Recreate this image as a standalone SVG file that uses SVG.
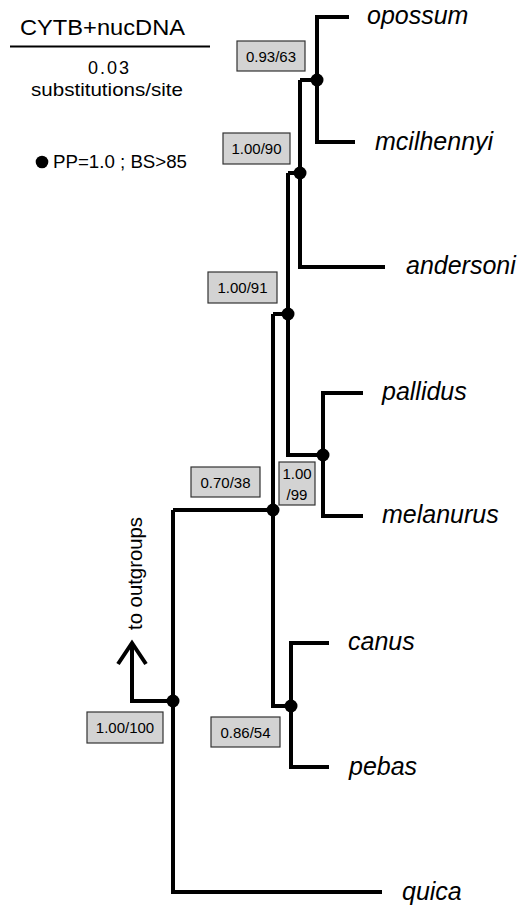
<svg xmlns="http://www.w3.org/2000/svg" width="517" height="906" viewBox="0 0 517 906">
<style>
  .br { fill: none; stroke: #000; stroke-width: 4; stroke-linejoin: miter; stroke-linecap: butt; }
  .dot { fill: #000; }
  .box { fill: #d3d3d3; stroke: #333; stroke-width: 1.2; }
  .sup { font-family: "Liberation Sans", Arial, sans-serif; font-size: 15px; fill: #000; text-anchor: middle; }
  .tax { font-family: "Liberation Sans", Arial, sans-serif; font-size: 25px; font-style: italic; fill: #000; }
  .hdr { font-family: "Liberation Sans", Arial, sans-serif; fill: #000; }
</style>
<rect width="517" height="906" fill="#fff"/>

<g id="legend">
  <text class="hdr" x="20" y="35" font-size="22" textLength="165" lengthAdjust="spacingAndGlyphs">CYTB+nucDNA</text>
  <line x1="10" y1="46.5" x2="210" y2="46.5" stroke="#000" stroke-width="2"/>
  <text class="hdr" x="109.5" y="74" font-size="18" text-anchor="middle" letter-spacing="2">0.03</text>
  <text class="hdr" x="107" y="96" font-size="19" text-anchor="middle" textLength="152" lengthAdjust="spacingAndGlyphs">substitutions/site</text>
  <circle cx="42" cy="162" r="6.3" fill="#000"/>
  <text class="hdr" x="53" y="168" font-size="18" textLength="134" lengthAdjust="spacingAndGlyphs">PP=1.0 ; BS&gt;85</text>
</g>

<g id="connectors">
  <path class="br" d="M349 17 H317 V142 H355"/>
  <path class="br" d="M300 80 H317"/>
  <path class="br" d="M300 80 V267 H385"/>
  <path class="br" d="M288 173 H300"/>
  <path class="br" d="M363 393 H323 V516 H363"/>
  <path class="br" d="M288 173 V455 H323"/>
  <path class="br" d="M273 314 H288"/>
  <path class="br" d="M329 643 H291 V767 H329"/>
  <path class="br" d="M273 314 V706 H291"/>
  <path class="br" d="M173 510 H273"/>
  <path class="br" d="M173 510 V892 H382"/>
  <path class="br" d="M173 701 H132 V643"/>
  <path class="br" d="M118 664 L132 643 L146 664"/>
</g>

<g id="node-opossum-mcilhennyi">
  <circle class="dot" cx="317" cy="80" r="6.5"/>
  <rect class="box" x="237" y="41" width="68" height="30"/>
  <text class="sup" x="271" y="61.5">0.93/63</text>
</g>
<g id="node-andersoni-clade">
  <circle class="dot" cx="300" cy="173" r="6.5"/>
  <rect class="box" x="223" y="133" width="67" height="31"/>
  <text class="sup" x="256.5" y="154">1.00/90</text>
</g>
<g id="node-ingroup-upper">
  <circle class="dot" cx="288" cy="314" r="6.5"/>
  <rect class="box" x="208" y="272" width="69" height="31"/>
  <text class="sup" x="242.5" y="293">1.00/91</text>
</g>
<g id="node-pallidus-melanurus">
  <circle class="dot" cx="323" cy="455" r="6.5"/>
  <rect class="box" x="279" y="462" width="36" height="43"/>
  <text class="sup" x="297" y="479">1.00</text>
  <text class="sup" x="297" y="500">/99</text>
</g>
<g id="node-ingroup">
  <circle class="dot" cx="273" cy="510" r="6.5"/>
  <rect class="box" x="191" y="467" width="69" height="30"/>
  <text class="sup" x="225.5" y="487.5">0.70/38</text>
</g>
<g id="node-canus-pebas">
  <circle class="dot" cx="291" cy="706" r="6.5"/>
  <rect class="box" x="211" y="717" width="69" height="30"/>
  <text class="sup" x="245.5" y="737.5">0.86/54</text>
</g>
<g id="node-root">
  <circle class="dot" cx="173" cy="701" r="6.5"/>
  <rect class="box" x="87" y="712" width="76" height="31"/>
  <text class="sup" x="125" y="733">1.00/100</text>
</g>
<g id="outgroup-label">
  <text class="hdr" font-size="20" text-anchor="middle" transform="translate(142 573.5) rotate(-90)" textLength="113" lengthAdjust="spacingAndGlyphs">to outgroups</text>
</g>

<g id="leaf-opossum"><text class="tax" x="367" y="24">opossum</text></g>
<g id="leaf-mcilhennyi"><text class="tax" x="375" y="150">mcilhennyi</text></g>
<g id="leaf-andersoni"><text class="tax" x="406" y="274">andersoni</text></g>
<g id="leaf-pallidus"><text class="tax" x="382" y="400">pallidus</text></g>
<g id="leaf-melanurus"><text class="tax" x="382" y="523">melanurus</text></g>
<g id="leaf-canus"><text class="tax" x="348" y="650">canus</text></g>
<g id="leaf-pebas"><text class="tax" x="349" y="775">pebas</text></g>
<g id="leaf-quica"><text class="tax" x="402" y="900">quica</text></g>
</svg>
